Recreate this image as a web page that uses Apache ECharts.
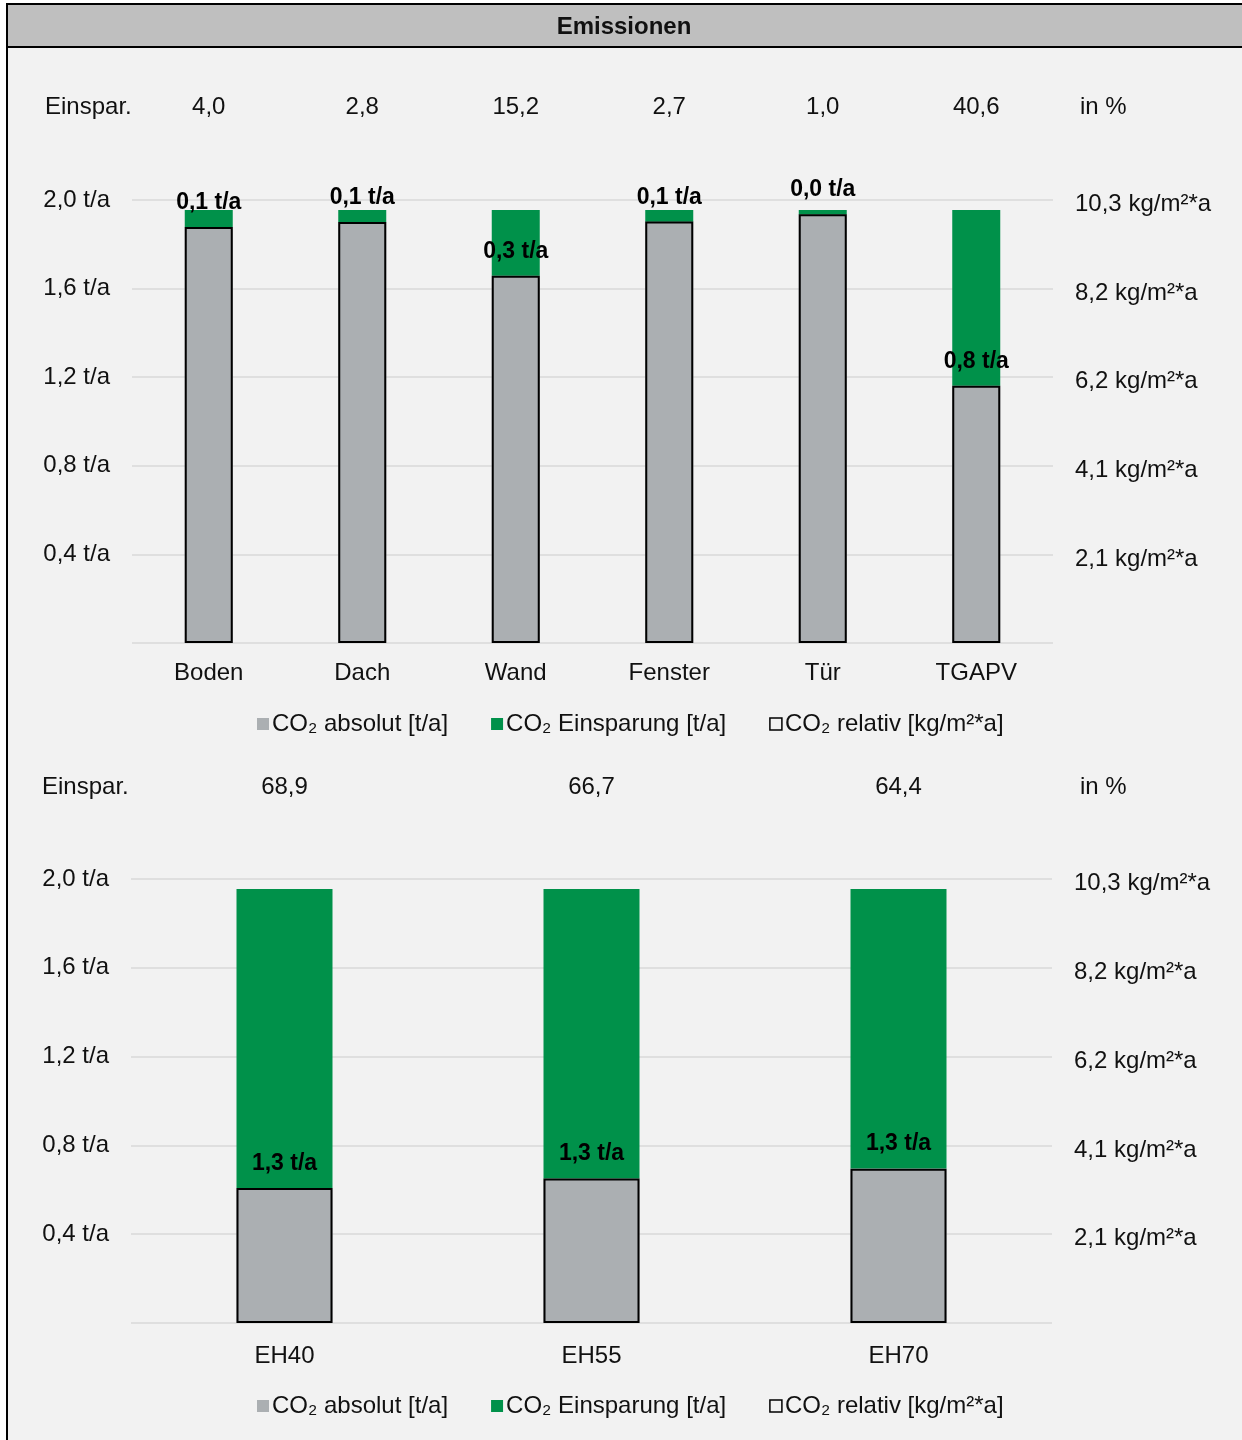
<!DOCTYPE html>
<html>
<head>
<meta charset="utf-8">
<script src="https://cdn.jsdelivr.net/npm/echarts@6/dist/echarts.min.js"></script>
<style>
html,body{margin:0;padding:0;background:#fff;}
#c{width:1242px;height:1440px;}
</style>
</head>
<body>
<div id="c"></div>
<script>
// ---- data ----
var titleText = 'Emissionen';
var seriesNames = ['CO₂ absolut [t/a]', 'CO₂ Einsparung [t/a]', 'CO₂ relativ [kg/m²*a]'];

var catsTop = ['Boden', 'Dach', 'Wand', 'Fenster', 'Tür', 'TGAPV'];
var absTop = [1.877, 1.900, 1.658, 1.902, 1.935, 1.161];
var savTop = [0.078, 0.055, 0.297, 0.053, 0.020, 0.794];
var relTop = [9.67, 9.79, 8.54, 9.80, 9.97, 5.98];
var pctTop = ['4,0', '2,8', '15,2', '2,7', '1,0', '40,6'];

var catsBot = ['EH40', 'EH55', 'EH70'];
var absBot = [0.608, 0.651, 0.696];
var savBot = [1.347, 1.304, 1.259];
var relBot = [3.13, 3.35, 3.58];
var pctBot = ['68,9', '66,7', '64,4'];

var rowLabel = 'Einspar.';
var rowUnit = 'in %';

// ---- styles ----
var FONT = '"Liberation Sans", Arial, sans-serif';
var FS = 24;
var GREY = '#abafb2';
var GREEN = '#00914a';
var TXT = '#111111';
var GRID = '#d9d9d9';

var chart = echarts.init(document.getElementById('c'), null, {renderer: 'canvas'});

function fmtComma(v, d) { return (Math.round(v * Math.pow(10, d)) / Math.pow(10, d)).toFixed(d).replace('.', ','); }

function yLeft(gi) {
  return {
    type: 'value', gridIndex: gi, min: 0, max: 2.0, interval: 0.4,
    axisLine: {show: false}, axisTick: {show: false},
    splitLine: {show: true, lineStyle: {color: GRID, width: 1.5}},
    axisLabel: {showMinLabel: false, margin: 22, color: TXT, fontFamily: FONT, fontSize: FS,
      formatter: function (v) { return fmtComma(v, 1) + ' t/a'; }}
  };
}
function yRight(gi) {
  return {
    type: 'value', gridIndex: gi, position: 'right', min: 0, max: 10.3, interval: 2.06,
    axisLine: {show: false}, axisTick: {show: false}, splitLine: {show: false},
    axisLabel: {showMinLabel: false, margin: 22, color: TXT, fontFamily: FONT, fontSize: FS,
      rich: {r: {color: TXT, fontFamily: FONT, fontSize: FS, padding: [9, 0, 0, 0]}},
      formatter: function (v) { return '{r|' + fmtComma(v, 1) + ' kg/m²*a}'; }}
  };
}
function xCat(gi, cats, margin) {
  return {
    type: 'category', gridIndex: gi, data: cats,
    axisLine: {show: false}, axisTick: {show: false},
    axisLabel: {margin: margin, color: TXT, fontFamily: FONT, fontSize: FS}
  };
}
function xTop(gi, pcts, margin) {
  return {
    type: 'category', gridIndex: gi, position: 'top', data: pcts,
    axisLine: {show: false}, axisTick: {show: false},
    axisLabel: {margin: margin, color: TXT, fontFamily: FONT, fontSize: FS}
  };
}

function seriesSet(xi, yi, yri, abs, sav, rel, bw) {
  return [
    {name: seriesNames[0], type: 'bar', xAxisIndex: xi, yAxisIndex: yi, stack: 's' + xi,
      data: abs, barWidth: bw, itemStyle: {color: GREY}},
    {name: seriesNames[1], type: 'bar', xAxisIndex: xi, yAxisIndex: yi, stack: 's' + xi,
      data: sav, barWidth: bw, itemStyle: {color: GREEN},
      label: {show: true, position: 'insideBottom', distance: 13, color: '#000',
        fontFamily: FONT, fontSize: 23, fontWeight: 'bold',
        formatter: function (p) { return fmtComma(p.value, 1) + ' t/a'; }}},
    {name: seriesNames[2], type: 'bar', xAxisIndex: xi, yAxisIndex: yri,
      data: rel, barWidth: bw, barGap: '-100%', z: 5,
      itemStyle: {color: 'rgba(0,0,0,0)', borderColor: '#000', borderWidth: 2}}
  ];
}

function legendAt(top) {
  return {
    top: top, left: 252, itemWidth: 12, itemHeight: 12, itemGap: 43, icon: 'rect',
    textStyle: {color: TXT, fontFamily: FONT, fontSize: FS, padding: [0, 0, 0, -2]},
    data: [
      {name: seriesNames[0]},
      {name: seriesNames[1]},
      {name: seriesNames[2], itemStyle: {color: 'rgba(0,0,0,0)', borderColor: '#000', borderWidth: 1.5}}
    ]
  };
}

function txt(x, y, s, align, bold) {
  return {type: 'text', x: x, y: y, z: 100,
    style: {text: s, fill: TXT, font: (bold ? 'bold ' : '') + FS + 'px ' + FONT, textAlign: align || 'left', textVerticalAlign: 'middle'}};
}

var option = {
  backgroundColor: '#ffffff',
  animation: false,
  graphic: [
    {type: 'rect', z: -10, shape: {x: 7, y: 4, width: 1250, height: 1450}, style: {fill: '#f2f2f2', stroke: '#000', lineWidth: 2}},
    {type: 'rect', z: -9, shape: {x: 7, y: 4, width: 1250, height: 43}, style: {fill: '#bfbfbf', stroke: '#000', lineWidth: 2}},
    txt(624, 27, titleText, 'center', true),
    txt(45, 107, rowLabel, 'left'),
    txt(1080, 107, rowUnit, 'left'),
    txt(42, 787, rowLabel, 'left'),
    txt(1080, 787, rowUnit, 'left')
  ],
  grid: [
    {left: 132, width: 921, top: 200, height: 443},
    {left: 131, width: 921, top: 879, height: 444}
  ],
  legend: [legendAt(707), legendAt(1389)],
  xAxis: [xCat(0, catsTop, 18), xCat(1, catsBot, 21), xTop(0, pctTop, 81), xTop(1, pctBot, 80)],
  yAxis: [yLeft(0), yRight(0), yLeft(1), yRight(1)],
  series: [].concat(
    seriesSet(0, 0, 1, absTop, savTop, relTop, 48),
    seriesSet(1, 2, 3, absBot, savBot, relBot, 96)
  )
};
chart.setOption(option);
</script>
</body>
</html>
